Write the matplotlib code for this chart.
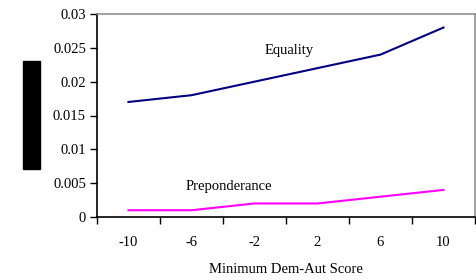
import matplotlib
matplotlib.use("Agg")
import matplotlib.pyplot as plt
from matplotlib.patches import Rectangle

categories = ["-10", "-6", "-2", "2", "6", "10"]
equality = [0.017, 0.018, 0.020, 0.022, 0.024, 0.028]
preponderance = [0.001, 0.001, 0.002, 0.002, 0.003, 0.004]
yticks = [0, 0.005, 0.01, 0.015, 0.02, 0.025, 0.03]
ytick_labels = ["0", "0.005", "0.01", "0.015", "0.02", "0.025", "0.03"]

plt.rcParams['font.family'] = ['Liberation Serif', 'DejaVu Serif']
FS = 10.5

fig = plt.figure(figsize=(4.77, 2.80), dpi=100)
ax = fig.add_axes([97/477, 1-217/280, (475-97)/477, (217-14)/280])

x = list(range(len(categories)))
ax.plot(x, equality, color="#000080", lw=1.5)
ax.plot(x, preponderance, color="#FF00FF", lw=1.5)

ax.set_xlim(-0.5, len(categories) - 0.5)
ax.set_ylim(0, 0.03)
ax.set_yticks(yticks)
ax.set_yticklabels(ytick_labels, fontsize=FS)
ax.set_xticks(x)
ax.set_xticklabels(categories, fontsize=FS)
ax.set_xticks([i - 0.5 for i in range(len(categories) + 1)], minor=True)
ax.tick_params(axis='x', which='major', length=0, pad=13.5)
ax.tick_params(axis='x', which='minor', length=5, direction='out', width=1)
ax.tick_params(axis='y', length=5, direction='out', width=1, pad=3)

for s in ['left', 'bottom']:
    ax.spines[s].set_color('black')
    ax.spines[s].set_linewidth(1.2)
for s in ['top', 'right']:
    ax.spines[s].set_color('#909090')
    ax.spines[s].set_linewidth(1.2)

ax.set_xlabel("Minimum Dem-Aut Score", fontsize=FS, labelpad=10.5)

ax.text(2.55, 0.0246, "Equality", fontsize=FS, ha='center', va='center')
ax.text(1.6, 0.00446, "Preponderance", fontsize=FS, ha='center', va='center')

fig.patches.append(Rectangle((23/477, 1-169/280), 17/477, 108/280,
                             transform=fig.transFigure, color='black', zorder=5))

fig.savefig("out.png", dpi=100)
